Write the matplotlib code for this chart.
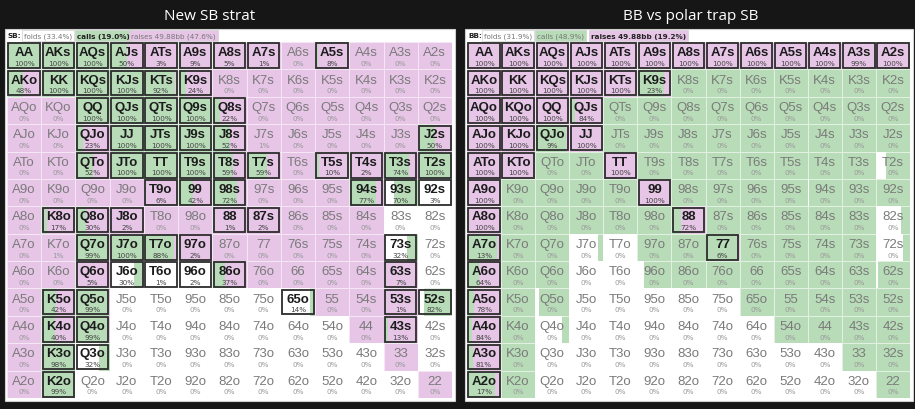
import matplotlib
matplotlib.use("Agg")
import matplotlib.pyplot as plt
from matplotlib.patches import Rectangle

RANKS = ["A", "K", "Q", "J", "T", "9", "8", "7", "6", "5", "4", "3", "2"]

# SB chart: shown value = call %, fold % given, raise = rest
sb_call = [
    [100, 100, 100, 50, 3, 9, 5, 1, 0, 8, 0, 0, 0],
    [48, 100, 100, 100, 92, 24, 0, 0, 0, 0, 0, 0, 0],
    [0, 0, 100, 100, 100, 100, 22, 0, 0, 0, 0, 0, 0],
    [0, 0, 23, 100, 100, 100, 52, 0.7, 0, 0, 0, 0, 50],
    [0, 0, 52, 100, 100, 100, 59, 59, 0, 10, 2, 74, 100],
    [0, 0, 0, 0, 6, 42, 72, 0, 0, 0, 77, 70, 3],
    [0, 17, 30, 2, 0, 0, 1, 2, 0, 0, 0, 0, 0],
    [0, 0.7, 99, 100, 88, 2, 0, 0, 0, 0, 0, 32, 0],
    [0, 0, 5, 30, 1, 2, 37, 0, 0, 0, 0, 7, 0],
    [0, 42, 99, 0, 0, 0, 0, 0, 14, 0, 0, 1, 82],
    [0, 40, 99, 0, 0, 0, 0, 0, 0, 0, 0, 13, 0],
    [0, 98, 32, 0, 0, 0, 0, 0, 0, 0, 0, 0, 0],
    [0, 99, 0, 0, 0, 0, 0, 0, 0, 0, 0, 0, 0],
]
sb_fold = [
    [0] * 13,
    [0] * 13,
    [0] * 13,
    [0] * 13,
    [0] * 13,
    [0, 0, 0, 0, 0, 0, 0, 0, 0, 0, 0, 30, 97],
    [0, 0, 0, 0, 0, 0, 0, 0, 0, 0, 0, 100, 100],
    [0, 0, 0, 0, 0, 0, 0, 0, 0, 0, 0, 68, 100],
    [0, 0, 0, 70, 99, 98, 0, 0, 0, 0, 0, 0, 100],
    [0, 0, 0, 100, 100, 100, 100, 100, 86, 0, 0, 0, 18],
    [0, 0, 0, 100, 100, 100, 100, 100, 100, 100, 0, 0, 100],
    [0, 0, 68, 100, 100, 100, 100, 100, 100, 100, 100, 0, 100],
    [0, 0, 100, 100, 100, 100, 100, 100, 100, 100, 100, 100, 0],
]

# BB chart: shown value = raise %, fold % given, call = rest
bb_raise = [
    [100, 100, 100, 100, 100, 100, 100, 100, 100, 100, 100, 99, 100],
    [100, 100, 100, 100, 100, 23, 0, 0, 0, 0, 0, 0, 0],
    [100, 100, 100, 84, 0, 0, 0, 0, 0, 0, 0, 0, 0],
    [100, 100, 9, 100, 0, 0, 0, 0, 0, 0, 0, 0, 0],
    [100, 100, 0, 0, 100, 0, 0, 0, 0, 0, 0, 0, 0],
    [100, 0, 0, 0, 0, 100, 0, 0, 0, 0, 0, 0, 0],
    [100, 0, 0, 0, 0, 0, 72, 0, 0, 0, 0, 0, 0],
    [13, 0, 0, 0, 0, 0, 0, 6, 0, 0, 0, 0, 0],
    [64, 0, 0, 0, 0, 0, 0, 0, 0, 0, 0, 0, 0],
    [78, 0, 0, 0, 0, 0, 0, 0, 0, 0, 0, 0, 0],
    [84, 0, 0, 0, 0, 0, 0, 0, 0, 0, 0, 0, 0],
    [81, 0, 0, 0, 0, 0, 0, 0, 0, 0, 0, 0, 0],
    [17, 0, 0, 0, 0, 0, 0, 0, 0, 0, 0, 0, 0],
]
bb_fold = [
    [0] * 13,
    [0] * 13,
    [0] * 13,
    [0] * 13,
    [0, 0, 0, 0, 0, 0, 0, 0, 0, 0, 0, 0, 30],
    [0, 0, 0, 0, 0, 0, 0, 0, 0, 0, 5, 0, 0],
    [0, 0, 0, 0, 0, 0, 0, 0, 0, 0, 0, 0, 75],
    [0, 0, 0, 85, 100, 0, 0, 0, 0, 0, 0, 0, 80],
    [0, 0, 0, 100, 100, 20, 0, 0, 0, 0, 0, 0, 5],
    [0, 0, 10, 100, 100, 100, 100, 100, 0, 0, 0, 0, 0],
    [0, 0, 80, 100, 100, 100, 100, 100, 100, 0, 0, 0, 0],
    [0, 0, 100, 100, 100, 100, 100, 100, 100, 100, 100, 0, 0],
    [0, 0, 100, 100, 100, 100, 100, 100, 100, 100, 100, 100, 0],
]

sb_legend = ["folds (33.4%)", "calls (19.0%)", "raises 49.88bb (47.6%)"]
bb_legend = ["folds (31.9%)", "calls (48.9%)", "raises 49.88bb (19.2%)"]

GREEN = "#b8dcb8"
PINK = "#e6c5e6"
W, H = 915, 410


def hand(r, c):
    if r == c:
        return RANKS[r] + RANKS[c]
    if r < c:
        return RANKS[r] + RANKS[c] + "s"
    return RANKS[c] + RANKS[r] + "o"


def fig_box(fig, x0, y0, x1, y1, **kw):
    fig.add_artist(Rectangle((x0 / W, 1 - y1 / H), (x1 - x0) / W, (y1 - y0) / H,
                             transform=fig.transFigure, **kw))


def draw_panel(fig, px, title, title_x, player, legend, bold_idx, fold, call, raise_, shown):
    x0, x1 = px
    fig_box(fig, x0 - 2, 30, x1 + 3, 402, facecolor="white", edgecolor="#cfcfcf",
            lw=0.8, zorder=-10)
    fig.text(title_x / W, 1 - 16 / H, title, color="white",
             fontsize=11, ha="center", va="center", family="Open Sans")

    # legend strip
    ly = 1 - 36.5 / H
    fig.text((x0 + 1) / W, ly, player + ":", fontsize=5.2, fontweight="bold",
             va="center", color="#222222")
    colors = ["white", GREEN, PINK]
    starts = [x0 + 17, x0 + 70, x0 + 124]
    for i, (lab, fc, sx) in enumerate(zip(legend, colors, starts)):
        fig.text(sx / W, ly, lab, fontsize=5.2, va="center",
                 fontweight="bold" if i == bold_idx else "normal",
                 color="#222222" if i == bold_idx else "#777777",
                 bbox=dict(boxstyle="square,pad=0.3", fc=fc, ec="#d0d0d0", lw=0.5))

    ax = fig.add_axes([x0 / W, 1 - 399 / H, (x1 - x0) / W, (399 - 43) / H])
    ax.set_xlim(0, 13)
    ax.set_ylim(13, 0)
    ax.axis("off")
    for r in range(13):
        for c in range(13):
            f = fold[r][c] / 100
            ca = call[r][c] / 100
            ra = raise_[r][c] / 100
            ax.add_patch(Rectangle((c, r), f, 1, fc="white", lw=0))
            ax.add_patch(Rectangle((c + f, r), ca, 1, fc=GREEN, lw=0))
            ax.add_patch(Rectangle((c + f + ca, r), ra, 1, fc=PINK, lw=0))
            ax.add_patch(Rectangle((c, r), 1, 1, fill=False, ec="white", lw=0.7, alpha=0.6))
            v = shown[r][c]
            on = v >= 0.95
            if on:
                ax.add_patch(Rectangle((c + 0.04, r + 0.05), 0.92, 0.9, fill=False,
                                       ec="#2c2c2c", lw=1.3))
            ax.text(c + 0.5, r + 0.37, hand(r, c), ha="center", va="center",
                    fontsize=9.5, family="Liberation Sans",
                    fontweight="bold" if on else "normal",
                    color="#1c1c1c" if on else "#7a7a7a")
            ax.text(c + 0.5, r + 0.76, "%d%%" % round(v), ha="center", va="center",
                    fontsize=5.2, color="#444444" if on else "#999999")


sb_raise = [[100 - sb_call[r][c] - sb_fold[r][c] for c in range(13)] for r in range(13)]
bb_call = [[100 - bb_raise[r][c] - bb_fold[r][c] for c in range(13)] for r in range(13)]

fig = plt.figure(figsize=(W / 100, H / 100), dpi=100, facecolor="#161616")

draw_panel(fig, (7, 452), "New SB strat", 210, "SB", sb_legend, 1,
           sb_fold, sb_call, sb_raise, sb_call)
draw_panel(fig, (467, 910), "BB vs polar trap SB", 691, "BB", bb_legend, 2,
           bb_fold, bb_call, bb_raise, bb_raise)

fig.savefig("out.png", dpi=100, facecolor=fig.get_facecolor())
